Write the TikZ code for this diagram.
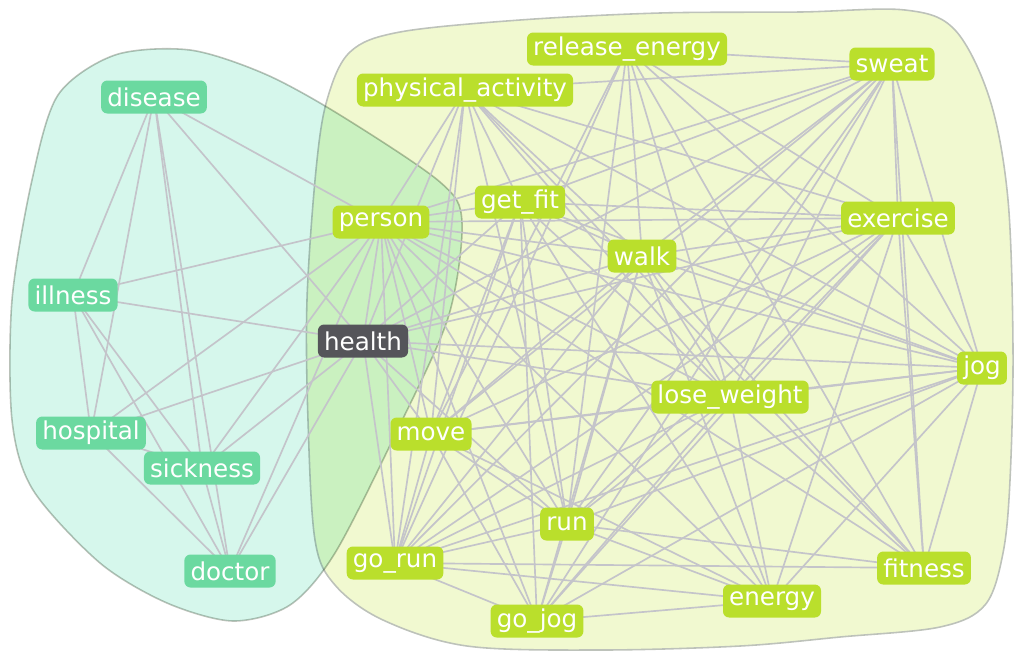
\documentclass[tikz,border=0pt]{standalone}
\usepackage{fontspec}
\setmainfont{DejaVu Sans}
\usepackage{xcolor}
\usepackage{tikz}
\usetikzlibrary{backgrounds}

\definecolor{tealterm}{HTML}{6BD9A0}
\definecolor{limeterm}{HTML}{BADF2C}
\definecolor{darkterm}{HTML}{55555A}
\definecolor{linkgray}{HTML}{C4C4CA}
\definecolor{tealhull}{HTML}{D6F7EC}
\definecolor{limehull}{HTML}{F1F9D0}
\definecolor{hullline}{HTML}{BDC2BA}

\begin{document}
\begin{tikzpicture}[
  x=0.02cm,y=-0.02cm,
  term/.style={rounded corners=3.5pt,minimum height=0.66cm,inner xsep=3.5pt,inner ysep=2pt,
    text=white,font=\fontsize{14}{16}\selectfont},
  sick/.style={term,fill=tealterm},
  fit/.style={term,fill=limeterm},
  hub/.style={term,fill=darkterm},
  link/.style={draw=linkgray,line width=0.95pt},
  hull/.style={draw=hullline,line width=0.9pt}
]
\useasboundingbox (0,0) rectangle (1020,654);

% illness cluster
\node[sick] (disease) at (154,97) {disease};
\node[sick] (illness) at (73,295) {illness};
\node[sick] (hospital) at (91,433) {hospital};
\node[sick] (sickness) at (202,468) {sickness};
\node[sick] (doctor) at (230,571) {doctor};
\node[hub] (health) at (363,341) {health};

% activity cluster
\node[fit] (person) at (381,222) {person};
\node[fit] (physact) at (465,90) {physical\_activity};
\node[fit] (releng) at (627,49) {release\_energy};
\node[fit] (sweat) at (892,64) {sweat};
\node[fit] (getfit) at (520,202) {get\_fit};
\node[fit] (walk) at (642,256) {walk};
\node[fit] (exercise) at (898,218) {exercise};
\node[fit] (jog) at (982,368) {jog};
\node[fit] (loseweight) at (730,397) {lose\_weight};
\node[fit] (move) at (431,434) {move};
\node[fit] (run) at (567,524) {run};
\node[fit] (gorun) at (395,563) {go\_run};
\node[fit] (gojog) at (537,621) {go\_jog};
\node[fit] (energy) at (772,601) {energy};
\node[fit] (fitness) at (924,568) {fitness};

\begin{scope}[on background layer]
  \draw[hull,fill=limehull] plot[smooth cycle,tension=0.55] coordinates {
    (327,100) (350,52) (400,32) (520,20) (660,13) (800,12) (905,10) (955,30)
    (990,100) (1008,200) (1013,350) (1010,480) (1003,553) (985,605) (940,627)
    (840,637) (740,646) (600,650) (467,646) (383,620) (335,585) (315,540)
    (308,420) (307,300) (316,170)};
  \begin{scope}[blend mode=multiply]
  \draw[hull,fill=tealhull] plot[smooth cycle,tension=0.5] coordinates {
    (32,180) (58,95) (115,55) (190,50) (265,74) (340,115) (440,182) (462,222)
    (448,318) (395,435) (335,553) (290,605) (233,621) (167,603) (100,563)
    (33,490) (12,420) (12,300)};
  \end{scope}
  % links
  \foreach \a/\b in {disease/illness,disease/hospital,disease/sickness,disease/doctor,
      disease/health,disease/person,illness/hospital,illness/sickness,illness/doctor,
      illness/health,illness/person,hospital/sickness,hospital/doctor,hospital/health,
      hospital/person,sickness/doctor,sickness/health,sickness/person,doctor/health,
      doctor/person,health/person}
    \draw[link] (\a.center) -- (\b.center);
  \foreach \a/\b in {health/getfit,health/walk,health/exercise,health/jog,
      health/loseweight,health/move,health/gorun,health/run,health/physact,health/sweat,
      person/physact,person/getfit,person/walk,person/exercise,person/jog,
      person/loseweight,person/move,person/run,person/gorun,person/gojog,
      person/energy,person/fitness,person/sweat}
    \draw[link] (\a.center) -- (\b.center);
  \foreach \a/\b in {physact/sweat,physact/getfit,physact/walk,physact/exercise,
      physact/jog,physact/loseweight,physact/move,physact/run,physact/gorun,
      physact/fitness,releng/sweat,releng/walk,releng/exercise,releng/jog,
      releng/loseweight,releng/run,releng/gorun,releng/fitness,releng/move,
      sweat/getfit,sweat/walk,sweat/exercise,sweat/jog,sweat/loseweight,sweat/move,
      sweat/run,sweat/gorun,sweat/gojog,sweat/fitness,
      getfit/walk,getfit/exercise,getfit/jog,getfit/loseweight,getfit/move,
      getfit/run,getfit/gorun,getfit/gojog,getfit/energy,
      walk/exercise,walk/jog,walk/loseweight,walk/move,walk/run,walk/gorun,
      walk/gojog,walk/energy,walk/fitness,
      exercise/jog,exercise/loseweight,exercise/move,exercise/run,exercise/gorun,
      exercise/gojog,exercise/energy,exercise/fitness,
      jog/loseweight,jog/move,jog/run,jog/gorun,jog/gojog,jog/energy,jog/fitness,
      loseweight/move,loseweight/run,loseweight/gorun,loseweight/gojog,
      loseweight/energy,loseweight/fitness,
      move/run,move/gorun,move/gojog,move/energy,
      run/gorun,run/gojog,run/energy,run/fitness,
      gorun/gojog,gorun/energy,gorun/fitness,gojog/energy}
    \draw[link] (\a.center) -- (\b.center);
\end{scope}
\end{tikzpicture}
\end{document}
